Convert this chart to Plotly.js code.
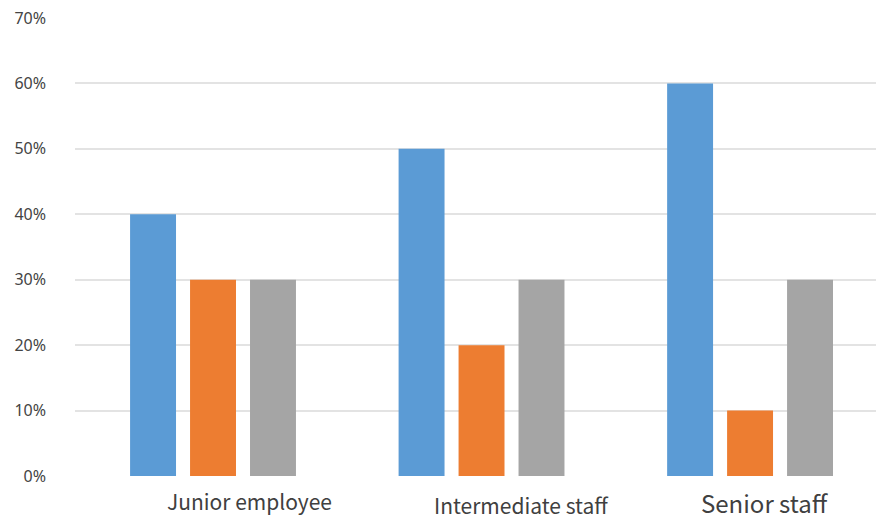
<!DOCTYPE html>
<html>
<head>
<meta charset="utf-8">
<script src="https://cdn.plot.ly/plotly-3.0.1.min.js"></script>
<style>html,body{margin:0;padding:0;background:#fff;}#chart{width:876px;height:520px;}</style>
</head>
<body>
<div id="chart"></div>
<script>
const categories = ["Junior employee", "Intermediate staff", "Senior staff"];
const seriesA = [0.40, 0.50, 0.60];
const seriesB = [0.30, 0.20, 0.10];
const seriesC = [0.30, 0.30, 0.30];
const yTickValues = [0, 0.1, 0.2, 0.3, 0.4, 0.5, 0.6, 0.7];
const yTickLabels = ["0%", "10%", "20%", "30%", "40%", "50%", "60%", "70%"];

const colors = ["#5B9BD5", "#ED7D31", "#A5A5A5"];
const series = [seriesA, seriesB, seriesC];

const traces = series.map((vals, i) => ({
  type: "bar",
  x: categories,
  y: vals,
  marker: {color: colors[i], line: {width: 0}},
  hoverinfo: "skip",
  showlegend: false
}));

const labelFont = "Noto Sans CJK SC, Noto Sans, sans-serif";
const labelStyles = [
  {size: 21, xshift: 36, yshift: -25},
  {size: 21, xshift: 40, yshift: -29},
  {size: 24, xshift: 15, yshift: -26}
];

const annotations = categories.map((c, i) => ({
  x: c, xref: "x", y: 0, yref: "y",
  text: c, showarrow: false,
  xanchor: "center", yanchor: "middle",
  borderpad: 0,
  xshift: labelStyles[i].xshift, yshift: labelStyles[i].yshift,
  font: {family: labelFont, size: labelStyles[i].size, color: "#404040"}
}));

const layout = {
  width: 876, height: 520,
  margin: {l: 75, r: 0, t: 18, b: 44},
  paper_bgcolor: "#ffffff",
  plot_bgcolor: "#ffffff",
  barmode: "group",
  bargap: 0.33,
  bargroupgap: 0.234,
  xaxis: {
    type: "category",
    range: [-0.514, 2.469],
    showticklabels: false,
    showgrid: false, zeroline: false, showline: false, ticks: ""
  },
  yaxis: {
    range: [0, 0.7],
    tickvals: yTickValues,
    ticktext: yTickLabels,
    showgrid: true, gridcolor: "#e3e3e3", gridwidth: 2,
    zeroline: false, showline: false, ticks: "",
    ticklabelstandoff: 28,
    tickfont: {family: "Noto Sans, Open Sans, sans-serif", size: 16, color: "#444444"}
  },
  annotations: annotations,
  font: {family: "Noto Sans, Open Sans, sans-serif"}
};

Plotly.newPlot("chart", traces, layout, {staticPlot: true, displayModeBar: false});
</script>
</body>
</html>
